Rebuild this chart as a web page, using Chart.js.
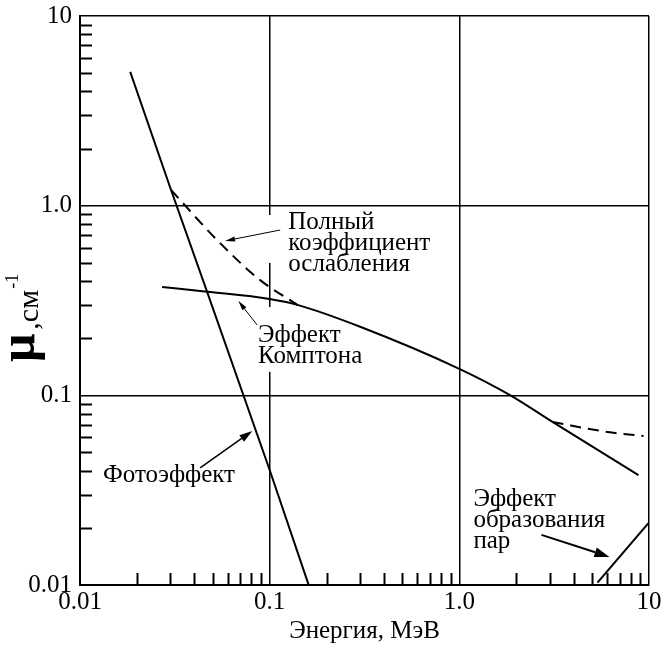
<!DOCTYPE html>
<html>
<head>
<meta charset="utf-8">
<script src="https://cdn.jsdelivr.net/npm/chart.js@4/dist/chart.umd.min.js"></script>
<style>
  html, body { margin: 0; padding: 0; background: #fff; }
</style>
</head>
<body>
<canvas id="muChart" width="665" height="646"></canvas>
<script>
// values (energy in MeV, mu in 1/cm)
const photoE = [0.0184, 0.0302, 0.0468, 0.1, 0.16];
const photoMu = [5.07, 1.21, 0.351, 0.0404, 0.0101];

const comptonE = [0.0271, 0.0468, 0.1, 0.14, 0.3, 1.0, 1.86, 3.1, 8.8];
const comptonMu = [0.373, 0.352, 0.322, 0.300, 0.230, 0.138, 0.1, 0.0724, 0.038];

const totalLowE = [0.0302, 0.0528, 0.0891, 0.14];
const totalLowMu = [1.21, 0.659, 0.405, 0.300];
const totalHighE = [3.1, 6.04, 9.36];
const totalHighMu = [0.0724, 0.0641, 0.0611];

const pairE = [5.35, 9.93];
const pairMu = [0.0103, 0.0212];

const xTickValues = [0.01, 0.1, 1, 10];
const xTickLabels = ['0.01', '0.1', '1.0', '10'];
const yTickValues = [0.01, 0.1, 1, 10];
const yTickLabels = ['0.01', '0.1', '1.0', '10'];
const minorSteps = [2, 3, 4, 5, 6, 7, 8, 9];

const serif = '"Liberation Serif", "Times New Roman", serif';

// annotation text, anchored in data coordinates (left edge, first baseline)
const notes = [
  { E: 0.1253, mu: 0.754, lines: ['Полный', 'коэффициент', 'ослабления'] },
  { E: 0.0869, mu: 0.191, lines: ['Эффект', 'Комптона'] },
  { E: 0.01322, mu: 0.035, lines: ['Фотоэффект'] },
  { E: 1.186, mu: 0.0261, lines: ['Эффект', 'образования', 'пар'] },
];
const arrows = [
  { from: [0.1136, 0.744], to: [0.0582, 0.652], lw: 1, head: 10, half: 2.5 },
  { from: [0.0859, 0.235], to: [0.0683, 0.315], lw: 1, head: 10, half: 2.5 },
  { from: [0.0430, 0.0414], to: [0.0810, 0.0649], lw: 1.5, head: 13, half: 4 },
  { from: [2.71, 0.01837], to: [6.19, 0.01406], lw: 2, head: 15, half: 5 },
];
// white patches behind the labels (grid is broken there in the original)
const masks = [
  { E0: 0.0891, E1: 0.125, mu0: 0.893, mu1: 0.499 },
  { E0: 0.0839, E1: 0.1136, mu0: 0.292, mu1: 0.133 },
];

function pts(xs, ys) {
  return xs.map((x, i) => ({ x: x, y: ys[i] }));
}

function lineSet(label, xs, ys, dash, smooth) {
  return {
    label: label,
    data: pts(xs, ys),
    borderColor: '#000',
    borderWidth: 2,
    borderDash: dash,
    pointRadius: 0,
    cubicInterpolationMode: smooth ? 'monotone' : 'default',
    tension: 0,
    fill: false,
  };
}

const extras = {
  id: 'extras',
  beforeDatasetsDraw(chart) {
    const { ctx, scales: { x, y } } = chart;
    ctx.save();
    ctx.fillStyle = '#fff';
    masks.forEach(m => {
      const x0 = x.getPixelForValue(m.E0), x1 = x.getPixelForValue(m.E1);
      const y0 = y.getPixelForValue(m.mu0), y1 = y.getPixelForValue(m.mu1);
      ctx.fillRect(x0, y0, x1 - x0, y1 - y0);
    });
    ctx.restore();
  },
  afterDatasetsDraw(chart) {
    const { ctx, chartArea: a, scales: { x, y } } = chart;
    ctx.save();
    // minor ticks pointing inward
    ctx.strokeStyle = '#000';
    ctx.lineWidth = 2;
    const tickLen = 12;
    ctx.beginPath();
    for (let k = -2; k < 1; k++) {
      minorSteps.forEach(s => {
        const v = s * Math.pow(10, k);
        const px = Math.round(x.getPixelForValue(v)) + 0.5;
        ctx.moveTo(px, a.bottom);
        ctx.lineTo(px, a.bottom - tickLen);
        const py = Math.round(y.getPixelForValue(v)) + 0.5;
        ctx.moveTo(a.left, py);
        ctx.lineTo(a.left + tickLen, py);
      });
    }
    ctx.stroke();

    // label text
    ctx.fillStyle = '#000';
    ctx.font = '25px ' + serif;
    ctx.textBaseline = 'alphabetic';
    ctx.textAlign = 'left';
    notes.forEach(n => {
      const px = x.getPixelForValue(n.E);
      const py = y.getPixelForValue(n.mu);
      n.lines.forEach((t, i) => ctx.fillText(t, px, py + i * 21));
    });

    // arrows
    arrows.forEach(ar => {
      const x1 = x.getPixelForValue(ar.from[0]), y1 = y.getPixelForValue(ar.from[1]);
      const x2 = x.getPixelForValue(ar.to[0]), y2 = y.getPixelForValue(ar.to[1]);
      const ang = Math.atan2(y2 - y1, x2 - x1);
      const bx = x2 - ar.head * Math.cos(ang), by = y2 - ar.head * Math.sin(ang);
      ctx.lineWidth = ar.lw;
      ctx.beginPath();
      ctx.moveTo(x1, y1);
      ctx.lineTo(bx, by);
      ctx.stroke();
      ctx.beginPath();
      ctx.moveTo(x2, y2);
      ctx.lineTo(bx + ar.half * Math.sin(ang), by - ar.half * Math.cos(ang));
      ctx.lineTo(bx - ar.half * Math.sin(ang), by + ar.half * Math.cos(ang));
      ctx.closePath();
      ctx.fill();
    });
    ctx.restore();
  },
  afterDraw(chart) {
    // y axis title: big bold mu, then ",см" and superscript -1
    const ctx = chart.ctx;
    ctx.save();
    ctx.translate(34, 362);
    ctx.rotate(-Math.PI / 2);
    ctx.fillStyle = '#000';
    ctx.textBaseline = 'alphabetic';
    ctx.textAlign = 'left';
    ctx.font = 'bold 50px ' + serif;
    ctx.fillText('μ', 0, 0);
    let w = ctx.measureText('μ').width + 4;
    ctx.font = '30px ' + serif;
    ctx.fillText(',см', w, 4);
    w += ctx.measureText(',см').width + 1;
    ctx.font = '18px ' + serif;
    ctx.fillText('-1', w, -16);
    ctx.restore();
  },
};

const ctxMu = document.getElementById('muChart').getContext('2d');
const chartMu = new Chart(ctxMu, {
  type: 'line',
  data: {
    datasets: [
      lineSet('Фотоэффект', photoE, photoMu, [], false),
      lineSet('Эффект Комптона', comptonE, comptonMu, [], true),
      lineSet('Полный коэффициент ослабления', totalLowE, totalLowMu, [11, 7], true),
      lineSet('Полный коэффициент ослабления (2)', totalHighE, totalHighMu, [11, 7], true),
      lineSet('Эффект образования пар', pairE, pairMu, [], false),
    ],
  },
  options: {
    responsive: false,
    animation: false,
    layout: { padding: { top: 16, right: 16, left: 0, bottom: 0 } },
    plugins: {
      legend: { display: false },
      tooltip: { enabled: false },
    },
    scales: {
      x: {
        type: 'logarithmic',
        min: 0.01,
        max: 10,
        afterBuildTicks: s => { s.ticks = xTickValues.map(v => ({ value: v })); },
        afterFit: s => { s.height = 61; s.paddingLeft = 0; s.paddingRight = 0; },
        ticks: {
          autoSkip: false,
          maxRotation: 0,
          padding: 2,
          color: '#000',
          font: { family: serif, size: 25 },
          callback: v => xTickLabels[xTickValues.indexOf(v)] ?? '',
        },
        grid: { color: '#000', lineWidth: 1.5, drawTicks: false },
        border: { color: '#000', width: 2 },
        title: {
          display: true,
          text: 'Энергия, МэВ',
          color: '#000',
          font: { family: serif, size: 25 },
          padding: { top: 0, bottom: 0 },
        },
      },
      y: {
        type: 'logarithmic',
        min: 0.01,
        max: 10,
        afterBuildTicks: s => { s.ticks = yTickValues.map(v => ({ value: v })); },
        afterFit: s => { s.width = 80; s.paddingTop = 0; s.paddingBottom = 0; },
        ticks: {
          autoSkip: false,
          padding: 8,
          color: '#000',
          font: { family: serif, size: 25 },
          callback: v => yTickLabels[yTickValues.indexOf(v)] ?? '',
        },
        grid: { color: '#000', lineWidth: 1.5, drawTicks: false },
        border: { color: '#000', width: 2 },
      },
    },
  },
  plugins: [extras],
});
</script>
</body>
</html>
